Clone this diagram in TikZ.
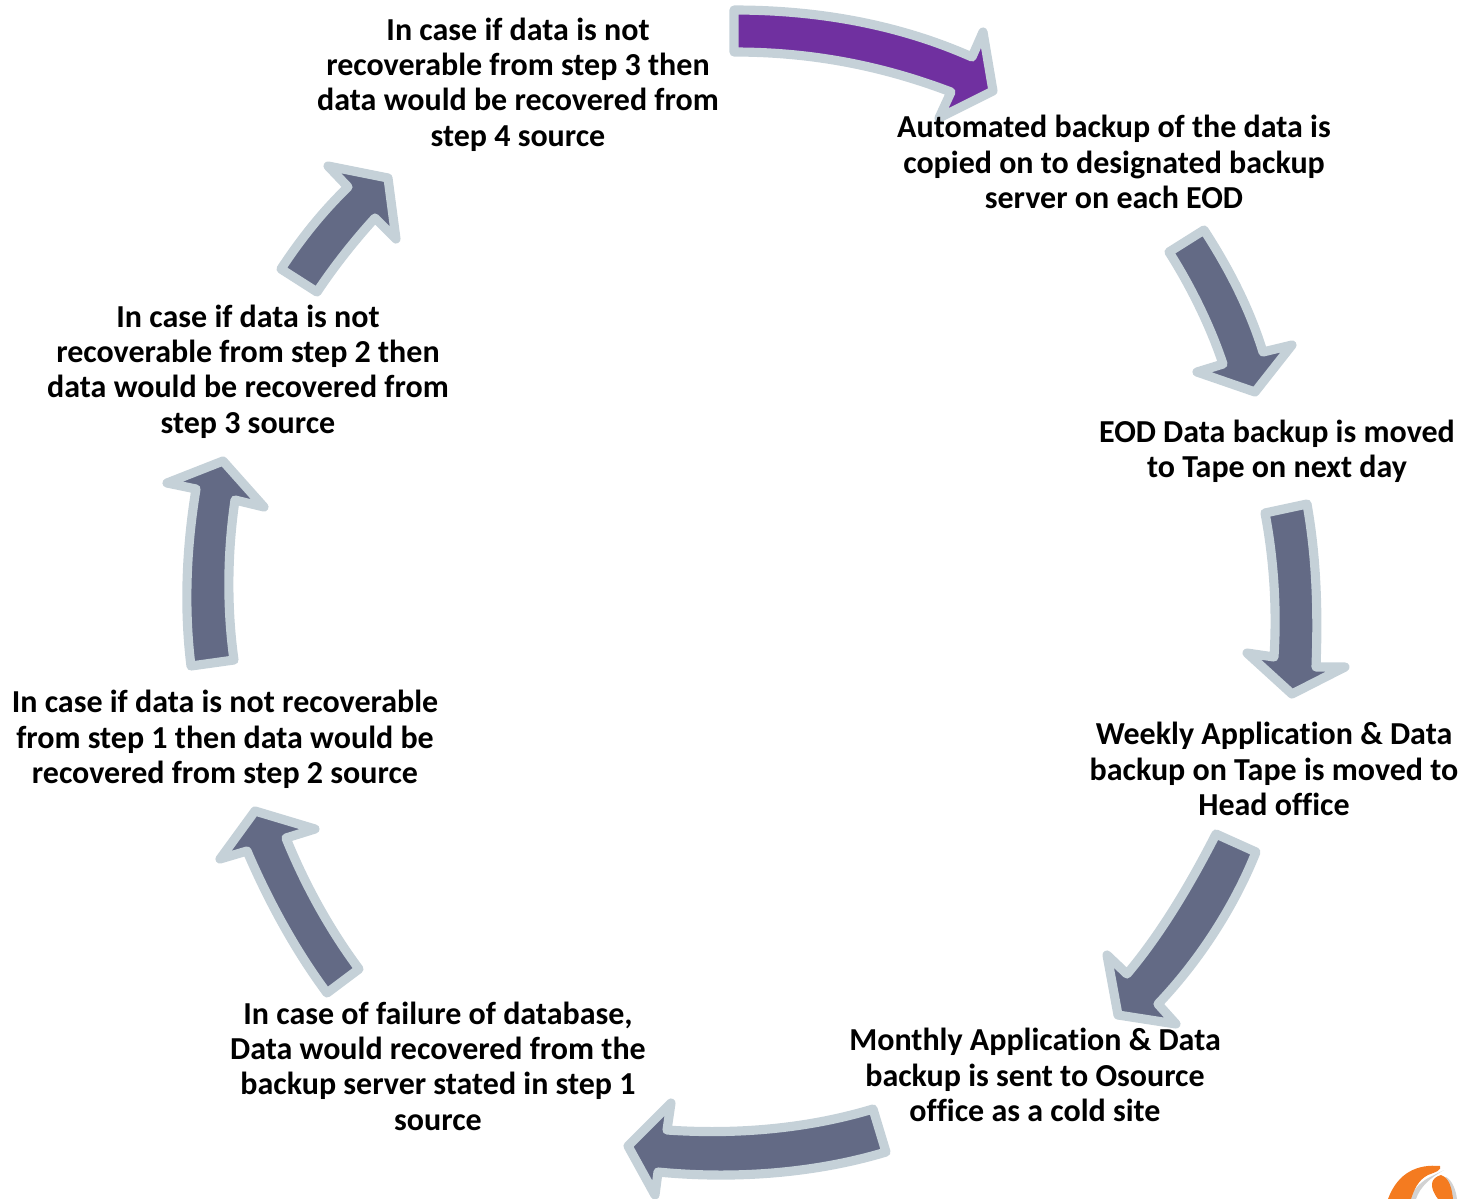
\documentclass[tikz,border=0pt]{standalone}
\usepackage{fontspec}
\setmainfont{Carlito}[Ligatures=CommonOff]
\usepackage{tikz}
\definecolor{arrowfill}{HTML}{636A85}
\definecolor{arrowedge}{HTML}{C5D1D8}
\definecolor{purplefill}{HTML}{7030A0}
\definecolor{logoorange}{HTML}{F47B20}
\tikzset{
	blockarrow/.style = {draw = arrowedge, fill = arrowfill, line width = 2.6pt, line join = round},
	steptext/.style = {align = center, font = \fontsize{9.1}{10.05}\selectfont\bfseries, inner sep = 0pt, text = black}
}

\begin{document}
\begin{tikzpicture}[x = 0.01cm, y = -0.01cm]
		\useasboundingbox (0,0) rectangle (1462,1199);
		\clip (0,0) rectangle (1462,1199);
		\draw[blockarrow, fill = purplefill] (734,10) .. controls (820,10) and (900,25) .. (972,57) -- (983,32) -- (993,91) -- (939,118) -- (951,92) .. controls (880,65) and (810,52) .. (734,52) -- cycle;
		\draw[blockarrow] (1204,230) .. controls (1230,270) and (1250,310) .. (1263,352) -- (1292,345) -- (1255,392) -- (1197,372) -- (1223,364) .. controls (1210,325) and (1190,285) .. (1169,252) -- cycle;
		\draw[blockarrow] (1307,504) .. controls (1317,560) and (1318,615) .. (1316,667) -- (1345,667) -- (1292,694) -- (1247,653) -- (1274,657) .. controls (1277,610) and (1274,560) .. (1265,513) -- cycle;
		\draw[blockarrow] (1216,834) .. controls (1190,885) and (1160,935) .. (1127,974) -- (1107,955) -- (1118,1015) -- (1176,1024) -- (1158,1004) .. controls (1200,960) and (1235,905) .. (1256,852) -- cycle;
		\draw[blockarrow] (873,1109) .. controls (810,1128) and (740,1135) .. (667,1130) -- (671,1103) -- (628,1146) -- (655,1195) -- (658,1172) .. controls (740,1180) and (820,1172) .. (886,1152) -- cycle;
		\draw[blockarrow] (359,969) .. controls (330,930) and (305,885) .. (286,838) -- (315,829) -- (255,811) -- (220,859) -- (247,851) .. controls (268,900) and (295,950) .. (327,993) -- cycle;
		\draw[blockarrow] (234,660) .. controls (227,610) and (227,555) .. (235,500) -- (264,507) -- (223,461) -- (167,483) -- (196,489) .. controls (186,550) and (184,610) .. (191,666) -- cycle;
		\draw[blockarrow] (317,292) .. controls (335,265) and (355,240) .. (375,218) -- (396,239) -- (388,178) -- (328,166) -- (348,187) .. controls (322,212) and (300,240) .. (281,269) -- cycle;
		\fill[black!35, opacity = 0.5] (1416,1199) .. controls (1420,1187) and (1430,1178) .. (1444,1170) -- (1428,1178) .. controls (1418,1184) and (1412,1192) .. (1410,1199) -- cycle;
		\fill[logoorange] (1388,1199) .. controls (1398,1172) and (1418,1164) .. (1440,1166) .. controls (1442,1170) and (1436,1172) .. (1428,1175) .. controls (1418,1180) and (1414,1190) .. (1411,1199) -- cycle;
		\fill[black!35, opacity = 0.5] (1440,1199) .. controls (1432,1190) and (1434,1180) .. (1446,1177) .. controls (1452,1180) and (1456,1190) .. (1457,1199) -- cycle;
		\fill[logoorange] (1438,1199) .. controls (1429,1187) and (1430,1178) .. (1441,1175) .. controls (1450,1178) and (1452,1190) .. (1453,1199) -- cycle;
		\node[steptext] (stepfour) at (518,84.5) {In case if data is not\\recoverable from step 3 then\\data would be recovered from\\step 4 source};
		\node[steptext] (autobackup) at (1114,162) {Automated backup of the data is\\copied on to designated backup\\server on each EOD};
		\node[steptext] (eodtape) at (1277,451) {EOD Data backup is moved\\to Tape on next day};
		\node[steptext] (weekly) at (1274,769) {Weekly Application \& Data\\backup on Tape is moved to\\Head office};
		\node[steptext] (monthly) at (1035,1075) {Monthly Application \& Data\\backup is sent to Osource\\office as a cold site};
		\node[steptext] (failure) at (438,1066) {In case of failure of database,\\Data would recovered from the\\backup server stated in step 1\\source};
		\node[steptext] (steptwo) at (225,739.5) {In case if data is not recoverable\\from step 1 then data would be\\recovered from step 2 source};
		\node[steptext] (stepthree) at (248,371.5) {In case if data is not\\recoverable from step 2 then\\data would be recovered from\\step 3 source};
	\end{tikzpicture}
\end{document}
